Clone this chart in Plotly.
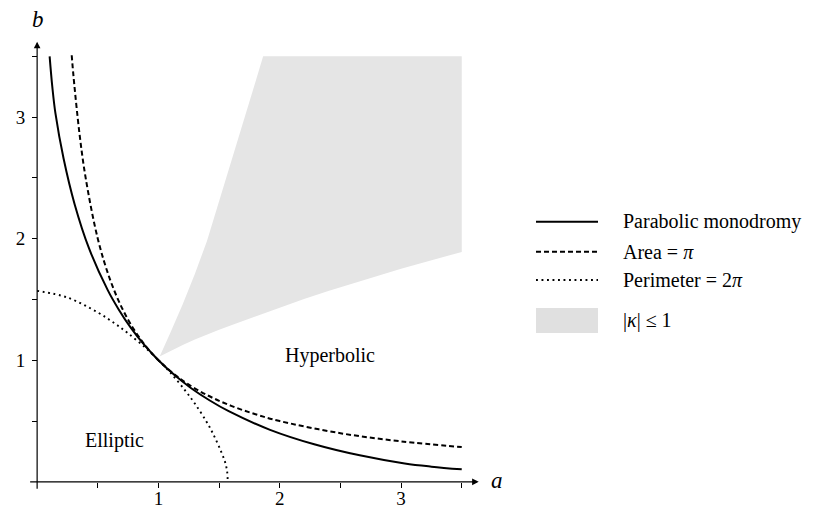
import plotly.graph_objects as go

# ---- data ----
parab_a = [0.103, 0.125, 0.151, 0.218, 0.309, 0.428, 0.581, 0.671, 0.770, 0.880, 1.000,
           1.130, 1.270, 1.420, 1.579, 1.920, 2.284, 2.659, 3.030, 3.250, 3.500]
parab_b = [3.500, 3.250, 3.030, 2.659, 2.284, 1.920, 1.579, 1.420, 1.270, 1.130, 1.000,
           0.880, 0.770, 0.671, 0.581, 0.428, 0.309, 0.218, 0.151, 0.125, 0.103]

area_a = [0.285, 0.30, 0.35, 0.40, 0.50, 0.60, 0.70, 0.80, 0.90, 1.00, 1.20, 1.40,
          1.60, 1.80, 2.00, 2.50, 3.00, 3.50]
area_b = [3.509, 3.333, 2.857, 2.500, 2.000, 1.667, 1.429, 1.250, 1.111, 1.000, 0.833,
          0.714, 0.625, 0.556, 0.500, 0.400, 0.333, 0.286]

perim_a = [0.0, 0.25, 0.5, 0.644, 0.75, 0.9, 1.0, 1.097, 1.221, 1.3, 1.393, 1.45,
           1.516, 1.55, 1.566, 1.571]
perim_b = [1.571, 1.516, 1.393, 1.3, 1.221, 1.097, 1.0, 0.9, 0.75, 0.644, 0.5, 0.396,
           0.25, 0.16, 0.086, 0.0]

kappa_lower_a = [1.01, 1.1, 1.2, 1.3, 1.4, 1.5, 1.6, 1.8, 2.0, 2.2, 2.4, 2.6, 2.8,
                 3.0, 3.2, 3.4, 3.5]
kappa_lower_b = [1.03, 1.078, 1.125, 1.17, 1.212, 1.25, 1.288, 1.36, 1.434, 1.503,
                 1.569, 1.632, 1.693, 1.752, 1.809, 1.864, 1.891]
kappa_upper_a = [3.5, 1.863, 1.80, 1.70, 1.60, 1.50, 1.40, 1.30, 1.20, 1.10, 1.01]
kappa_upper_b = [3.5, 3.5, 3.29, 2.96, 2.62, 2.29, 1.98, 1.71, 1.46, 1.23, 1.03]

tick_vals = [0.5, 1.0, 1.5, 2.0, 2.5, 3.0, 3.5]
tick_text = ["", "1", "", "2", "", "3", ""]

legend_labels = ["Parabolic monodromy", "Area = <i>π</i>", "Perimeter = 2<i>π</i>",
                 "|<i>κ</i>| ≤ 1"]
region_labels = ["Elliptic", "Hyperbolic"]
region_pos_a = [0.637, 2.418]
region_pos_b = [0.342, 1.042]

FONT = "Liberation Serif"
GREY = "rgb(229,229,229)"

fig = go.Figure()

fig.add_trace(go.Scatter(
    x=kappa_lower_a + kappa_upper_a, y=kappa_lower_b + kappa_upper_b,
    mode="lines", fill="toself", fillcolor=GREY,
    line=dict(width=0, color=GREY), hoverinfo="skip", showlegend=False))

DOT = dict(color="black", width=1.9, dash="1.9px,3.6px")
DASH = dict(color="black", width=2, dash="5px,3px")
SOLID = dict(color="black", width=2)

fig.add_trace(go.Scatter(x=perim_a, y=perim_b, mode="lines",
                         line=dict(**DOT, shape="spline"), showlegend=False))
fig.add_trace(go.Scatter(x=area_a, y=area_b, mode="lines",
                         line=dict(**DASH, shape="spline"), showlegend=False))
fig.add_trace(go.Scatter(x=parab_a, y=parab_b, mode="lines",
                         line=dict(**SOLID, shape="spline"), showlegend=False))
# empty trace that carries the overlaid label axis
fig.add_trace(go.Scatter(x=[], y=[], xaxis="x2", yaxis="y", showlegend=False,
                         hoverinfo="skip"))

annotations = []
# axes with arrows
annotations.append(dict(x=3.64, y=0, ax=-0.07, ay=0, xref="x", yref="y", axref="x", ayref="y",
                        text="", showarrow=True, arrowhead=2, arrowsize=1.1, arrowwidth=1.2,
                        arrowcolor="black"))
annotations.append(dict(x=0, y=3.62, ax=0, ay=-0.07, xref="x", yref="y", axref="x", ayref="y",
                        text="", showarrow=True, arrowhead=2, arrowsize=1.1, arrowwidth=1.2,
                        arrowcolor="black"))

# page body has an 8px margin; the figure is sized to fit inside the window
OFF = 8
FIGW, FIGH = 825 - OFF, 508 - OFF
W, H = 461, 462
L = 25 - OFF
T = 32 - OFF
B = FIGH - T - H
R = FIGW - L - W

def px(xp):
    return (xp - OFF - L) / W

def py(yp):
    return (FIGH - B - (yp - OFF)) / H

annotations.append(dict(x=px(497), y=py(480), xref="paper", yref="paper", text="<i>a</i>",
                        xanchor="center", yanchor="middle", showarrow=False,
                        font=dict(family=FONT, size=23, color="black")))
annotations.append(dict(x=px(38), y=py(20), xref="paper", yref="paper", text="<i>b</i>",
                        xanchor="center", yanchor="middle", showarrow=False,
                        font=dict(family=FONT, size=23, color="black")))
for lab, xa, yb in zip(region_labels, region_pos_a, region_pos_b):
    annotations.append(dict(x=xa, y=yb, xref="x", yref="y", text=lab, showarrow=False,
                            xanchor="center", yanchor="middle",
                            font=dict(family=FONT, size=20, color="black")))

leg_y = [221.7, 251.7, 280.0, 320.0]
for lab, yy in zip(legend_labels, leg_y):
    annotations.append(dict(x=px(621), y=py(yy), xref="paper", yref="paper", text=lab,
                            xanchor="left", yanchor="middle", showarrow=False,
                            font=dict(family=FONT, size=20, color="black")))

shapes = [
    dict(type="line", xref="paper", yref="paper", x0=px(536), x1=px(598), y0=py(221.7), y1=py(221.7),
         line=SOLID),
    dict(type="line", xref="paper", yref="paper", x0=px(536), x1=px(598), y0=py(251.7), y1=py(251.7),
         line=DASH),
    dict(type="line", xref="paper", yref="paper", x0=px(536), x1=px(598), y0=py(280), y1=py(280),
         line=DOT),
    dict(type="rect", xref="paper", yref="paper", x0=px(536), x1=px(598), y0=py(333), y1=py(308),
         fillcolor="rgb(224,224,224)", line=dict(width=0)),
]

pos0 = 0.1 / 3.8
common = dict(showgrid=False, zeroline=False, showline=False, automargin=False,
              tickvals=tick_vals, ticktext=tick_text,
              tickfont=dict(family=FONT, size=19, color="black"))
fig.update_layout(
    template="none",
    width=FIGW, height=FIGH,
    margin=dict(l=L, r=R, t=T, b=B, autoexpand=False),
    paper_bgcolor="white", plot_bgcolor="white",
    showlegend=False,
    font=dict(family=FONT, size=19, color="black"),
    xaxis=dict(range=[-0.1, 3.7], domain=[0, 1], anchor="free", position=pos0,
               ticks="outside", ticklen=5, tickwidth=1, tickcolor="black",
               showticklabels=False, **common),
    xaxis2=dict(range=[-0.1, 3.7], domain=[0, 1], anchor="free", position=pos0 - 3.5 / H,
                overlaying="x", side="bottom", ticks="", showticklabels=True, **common),
    yaxis=dict(range=[-0.1, 3.7], domain=[0, 1], anchor="free", position=pos0,
               ticks="outside", ticklen=5, tickwidth=1, tickcolor="black",
               ticklabelstandoff=3, **common),
    annotations=annotations,
    shapes=shapes,
)

fig.write_html("out.html", config={"displayModeBar": False})
